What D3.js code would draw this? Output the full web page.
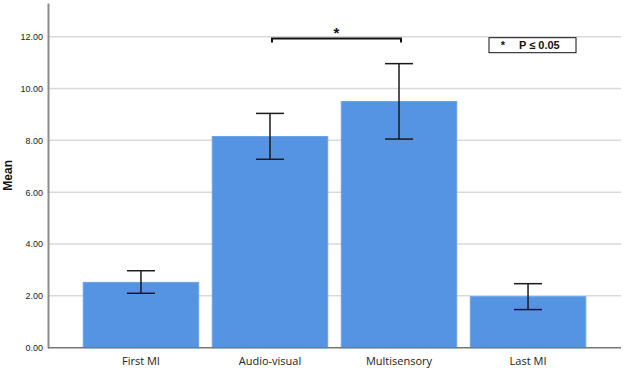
<!DOCTYPE html>
<html>
<head>
<meta charset="utf-8">
<script src="https://cdn.jsdelivr.net/npm/d3@7"></script>
<style>
    body { margin: 0; background: #fff; }
    svg { display: block; }
</style>
</head>
<body>
<div id="chart"></div>
<script>
'use strict';

// Data
const categories = ['First MI', 'Audio-visual', 'Multisensory', 'Last MI'];
const means = [2.52, 8.15, 9.50, 1.97];
const errLow = [2.10, 7.27, 8.05, 1.47];
const errHigh = [2.97, 9.04, 10.96, 2.47];
const yTicks = [0, 2, 4, 6, 8, 10, 12];
const sigPair = ['Audio-visual', 'Multisensory'];
const sigLabel = '*';
const legendLabel = 'P ≤ 0.05';

// Config
const w = 624;
const h = 369;
const plotLeft = 48;
const plotRight = 621;
const plotBottom = 347.7;
const plotTop = 3;

const svg = d3.select('#chart')
    .append('svg')
    .attr('width', w)
    .attr('height', h);

// Scales
const xScale = d3.scaleBand()
    .domain(categories)
    .range([plotLeft, plotRight])
    .paddingInner(0.105)
    .paddingOuter(0.273);

const yScale = d3.scaleLinear()
    .domain([0, 13.3])
    .range([plotBottom, plotTop]);

// Gridlines
svg.append('g')
    .selectAll('line')
    .data(yTicks.filter(t => t > 0))
    .join('line')
    .attr('x1', plotLeft)
    .attr('x2', plotRight)
    .attr('y1', d => yScale(d))
    .attr('y2', d => yScale(d))
    .attr('stroke', '#d9d9d9')
    .attr('stroke-width', 1.5);

// Bars
svg.append('g')
    .selectAll('rect')
    .data(categories)
    .join('rect')
    .attr('x', d => xScale(d))
    .attr('width', xScale.bandwidth())
    .attr('y', (d, i) => yScale(means[i]))
    .attr('height', (d, i) => plotBottom - yScale(means[i]))
    .attr('fill', '#5594e2')
    .attr('stroke', '#6aa3ea')
    .attr('stroke-width', 1);

// Error bars
const capW = 14;
const errG = svg.append('g')
    .attr('stroke', '#1a1a1a')
    .attr('stroke-width', 1.5);
categories.forEach((c, i) => {
    const cx = xScale(c) + xScale.bandwidth() / 2;
    errG.append('line')
        .attr('x1', cx).attr('x2', cx)
        .attr('y1', yScale(errLow[i])).attr('y2', yScale(errHigh[i]));
    [errLow[i], errHigh[i]].forEach(v => {
        errG.append('line')
            .attr('x1', cx - capW).attr('x2', cx + capW)
            .attr('y1', yScale(v)).attr('y2', yScale(v));
    });
});

// Axes
const yAxis = d3.axisLeft(yScale)
    .tickValues(yTicks)
    .tickFormat(d3.format('.2f'))
    .tickSize(0)
    .tickPadding(5);

const yG = svg.append('g')
    .attr('transform', `translate(${plotLeft},0)`)
    .call(yAxis);
yG.select('.domain')
    .attr('stroke', '#8c8c8c')
    .attr('stroke-width', 2);
yG.selectAll('text')
    .attr('font-family', 'Liberation Sans, Arial, sans-serif')
    .attr('font-size', 9)
    .attr('fill', '#222');

const xAxis = d3.axisBottom(xScale)
    .tickSize(0)
    .tickPadding(10);

const xG = svg.append('g')
    .attr('transform', `translate(0,${plotBottom})`)
    .call(xAxis);
xG.select('.domain')
    .attr('d', `M${plotLeft},0H${plotRight}`)
    .attr('stroke', '#777')
    .attr('stroke-width', 1.5);
xG.selectAll('text')
    .attr('font-family', 'Open Sans, Noto Sans, sans-serif')
    .attr('font-size', 11)
    .attr('fill', '#222');

// Y title
svg.append('text')
    .attr('transform', `translate(12,${(plotTop + plotBottom) / 2}) rotate(-90)`)
    .attr('text-anchor', 'middle')
    .attr('font-family', 'Liberation Sans, Arial, sans-serif')
    .attr('font-weight', 'bold')
    .attr('font-size', 12)
    .attr('fill', '#111')
    .text('Mean');

// Significance bracket
const bx1 = xScale(sigPair[0]) + xScale.bandwidth() / 2 + 2;
const bx2 = xScale(sigPair[1]) + xScale.bandwidth() / 2 + 2;
const by = yScale(12) + 1.8;
svg.append('path')
    .attr('d', `M${bx1},${by + 4}V${by}H${bx2}V${by + 4}`)
    .attr('fill', 'none')
    .attr('stroke', '#111')
    .attr('stroke-width', 2);
svg.append('text')
    .attr('x', (bx1 + bx2) / 2)
    .attr('y', by - 0.5)
    .attr('text-anchor', 'middle')
    .attr('font-family', 'Liberation Sans, Arial, sans-serif')
    .attr('font-weight', 'bold')
    .attr('font-size', 15)
    .attr('fill', '#111')
    .text(sigLabel);

// Legend box
const lg = svg.append('g')
    .attr('transform', 'translate(489,37.7)');
lg.append('rect')
    .attr('width', 87)
    .attr('height', 15)
    .attr('fill', '#fff')
    .attr('stroke', '#111')
    .attr('stroke-width', 1);
lg.append('text')
    .attr('x', 14)
    .attr('y', 11.5)
    .attr('text-anchor', 'middle')
    .attr('font-family', 'Liberation Sans, Arial, sans-serif')
    .attr('font-weight', 'bold')
    .attr('font-size', 11)
    .attr('fill', '#111')
    .text(sigLabel);
lg.append('text')
    .attr('x', 30)
    .attr('y', 11.5)
    .attr('font-family', 'Liberation Sans, Arial, sans-serif')
    .attr('font-weight', 'bold')
    .attr('font-size', 11)
    .attr('fill', '#111')
    .text(legendLabel);
</script>
</body>
</html>
